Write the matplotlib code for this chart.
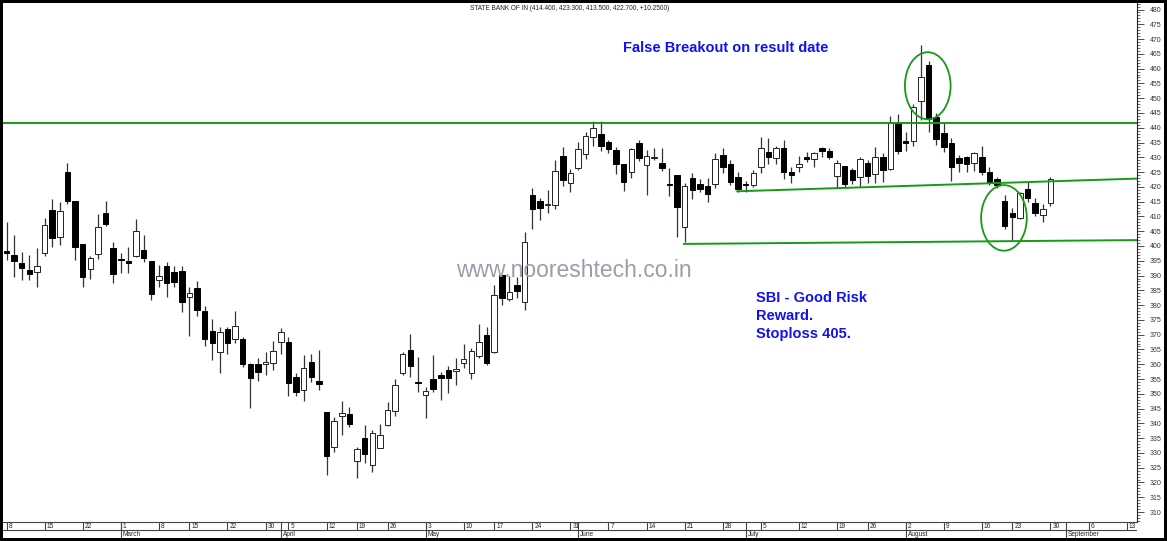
import numpy as np
import pandas as pd
import matplotlib
matplotlib.use('Agg')
import matplotlib.pyplot as plt
from matplotlib.patches import Ellipse
from matplotlib.ticker import MultipleLocator

# figure in pixels
W, H = 1167, 541
dpi = 100
green = '#159b15'
blue = '#1212ee'
plt.rc('font', family='Liberation Sans')

# NSE trading days 2021 (holidays removed), axis runs a bit into September
holidays = ['2021-03-11', '2021-03-29', '2021-04-02', '2021-04-14',
            '2021-04-21', '2021-05-13', '2021-07-21', '2021-08-19']
days = pd.bdate_range('2021-02-08', '2021-09-14')
days = days[~days.isin(pd.to_datetime(holidays))]

# daily OHLC, 8 Feb .. 30 Aug
opens = [398.3, 396.9, 394.1, 391.9, 391.2, 397.7, 412.2, 403.1, 425.1, 415.2,
         400.7, 392.1, 397.2, 411.3, 399.4, 395.3, 394.9, 396.6, 398.6, 395.0,
         388.5, 393.3, 391.1, 391.6, 382.6, 385.7, 378.1, 371.3, 364.0, 371.9,
         368.7, 368.7, 360.1, 360.1, 360.0, 360.3, 367.6, 367.4, 355.8, 351.3,
         360.8, 354.4, 343.9, 332.1, 342.6, 343.0, 327.1, 335.1, 325.9, 331.7,
         339.4, 344.3, 357.1, 364.8, 353.9, 349.6, 354.9, 356.3, 358.0, 357.6,
         360.3, 356.9, 362.9, 369.9, 364.2, 390.1, 381.9, 386.8, 381.1, 417.2,
         415.2, 414.0, 413.9, 430.5, 421.2, 426.3, 431.0, 437.0, 437.8, 435.3,
         432.5, 427.6, 425.1, 434.9, 427.4, 429.6, 428.2, 421.0, 424.0, 406.5,
         423.1, 420.9, 420.4, 421.0, 430.8, 427.6, 423.2, 420.8, 420.6, 426.6,
         431.9, 429.6, 433.0, 425.1, 426.6, 430.2, 429.3, 433.0, 432.2, 423.7,
         427.2, 425.7, 423.2, 428.0, 424.3, 430.2, 426.0, 441.5, 435.4, 435.5,
         449.1, 461.2, 443.7, 438.1, 434.7, 429.9, 430.2, 428.0, 430.2, 425.1,
         422.5, 415.2, 411.0, 409.6, 419.3, 414.4, 410.4, 414.4]
highs = [408.2, 403.7, 398.1, 396.9, 399.4, 409.3, 415.9, 415.0, 428.0, 415.2,
         400.7, 396.6, 410.7, 415.2, 401.2, 397.7, 399.8, 409.0, 403.7, 395.0,
         393.5, 394.7, 393.2, 393.2, 386.2, 388.2, 379.7, 375.2, 372.7, 372.7,
         378.0, 369.3, 360.5, 362.0, 364.0, 367.8, 372.1, 369.3, 357.2, 363.1,
         363.4, 364.8, 343.9, 342.0, 347.7, 345.4, 332.1, 339.4, 337.7, 339.7,
         347.3, 355.0, 364.2, 370.2, 362.3, 352.4, 363.1, 357.5, 359.4, 362.2,
         367.0, 365.4, 373.5, 372.7, 386.8, 390.1, 389.8, 389.6, 404.8, 419.5,
         416.1, 418.9, 429.1, 433.6, 426.0, 435.3, 438.4, 442.3, 442.3, 435.9,
         433.4, 427.9, 433.3, 435.8, 432.5, 433.0, 433.3, 426.3, 424.0, 421.4,
         424.6, 422.7, 423.1, 431.3, 433.3, 429.1, 425.1, 422.0, 425.7, 436.8,
         436.6, 433.9, 435.8, 426.8, 430.5, 431.9, 431.9, 433.6, 433.0, 429.1,
         427.2, 426.5, 430.2, 429.1, 433.6, 431.5, 444.1, 444.5, 438.7, 448.2,
         468.0, 462.6, 444.9, 441.8, 436.4, 430.8, 430.5, 431.9, 433.9, 426.8,
         423.4, 417.4, 412.9, 418.4, 421.7, 416.1, 414.1, 423.3]
lows = [395.2, 389.4, 388.5, 388.5, 386.0, 396.6, 399.8, 400.3, 414.1, 395.2,
        386.2, 389.0, 395.5, 406.9, 387.4, 391.0, 390.7, 396.4, 394.7, 381.7,
        386.2, 382.8, 386.0, 377.8, 369.5, 376.3, 366.2, 361.4, 357.2, 363.4,
        367.3, 358.9, 345.3, 354.4, 356.3, 358.0, 363.3, 349.3, 349.3, 347.7,
        354.1, 351.3, 322.5, 330.4, 336.0, 338.6, 321.4, 326.7, 323.4, 331.5,
        339.1, 342.6, 356.3, 355.8, 350.7, 341.7, 350.7, 347.9, 350.4, 353.0,
        358.6, 354.9, 362.0, 359.7, 363.9, 380.2, 381.5, 382.3, 378.3, 405.6,
        408.8, 411.0, 412.4, 420.4, 418.4, 425.7, 429.4, 433.8, 432.2, 431.3,
        424.2, 418.6, 423.1, 428.7, 417.2, 429.1, 425.4, 417.0, 403.1, 401.2,
        415.9, 418.2, 415.0, 419.5, 424.8, 420.8, 418.4, 418.1, 420.1, 424.6,
        427.7, 427.6, 422.7, 421.2, 425.1, 428.5, 426.8, 430.2, 429.3, 419.7,
        419.7, 421.0, 420.1, 421.4, 421.4, 421.5, 425.7, 431.0, 432.1, 433.9,
        442.6, 438.7, 434.2, 431.9, 422.1, 424.9, 425.1, 425.4, 424.0, 420.6,
        419.5, 405.7, 401.6, 409.1, 415.0, 410.2, 408.2, 413.5]
closes = [397.5, 394.9, 392.4, 390.4, 393.3, 407.1, 402.6, 411.8, 415.2, 399.8,
          389.6, 395.8, 406.3, 407.4, 390.4, 395.1, 394.3, 405.2, 395.8, 383.7,
          390.0, 387.6, 387.7, 381.1, 384.2, 378.5, 368.4, 367.3, 371.0, 367.1,
          372.9, 360.1, 355.2, 357.5, 360.9, 364.4, 370.8, 353.5, 350.5, 358.8,
          355.8, 353.2, 328.9, 340.9, 343.6, 339.8, 331.2, 329.6, 336.6, 336.2,
          344.5, 352.9, 363.4, 359.4, 353.7, 350.9, 351.5, 355.2, 355.5, 358.5,
          361.7, 364.6, 367.6, 360.5, 383.4, 382.5, 384.5, 384.9, 401.4, 412.4,
          412.7, 414.3, 425.4, 422.3, 424.6, 432.7, 437.3, 439.8, 433.8, 432.7,
          427.6, 421.5, 432.8, 429.9, 430.5, 430.0, 426.3, 420.6, 413.3, 420.3,
          418.9, 419.2, 417.5, 429.3, 426.8, 421.5, 419.3, 420.5, 424.6, 433.0,
          430.0, 433.0, 424.9, 424.0, 427.6, 429.3, 431.3, 432.2, 430.2, 428.2,
          421.0, 422.3, 429.3, 423.7, 430.0, 425.7, 441.8, 432.1, 435.0, 447.1,
          457.3, 443.0, 436.2, 433.6, 426.8, 428.0, 427.6, 431.3, 425.1, 421.7,
          420.6, 406.8, 409.9, 417.8, 416.3, 411.0, 412.45, 422.7]

# annotation lines (bar index, price)
resistance = 441.5
upper_trend = ([95.9, 148.4], [418.5, 422.8])
lower_trend = ([88.9, 148.4], [400.7, 402.0])

o = np.array(opens)
h = np.array(highs)
l = np.array(lows)
c = np.array(closes)
x = np.arange(len(o))
up = c >= o

xlim = (-0.46, 148.36)
ylim = (306.63, 482.2)

fig = plt.figure(figsize=(W / dpi, H / dpi), dpi=dpi)
fig.patch.set_facecolor('black')

bg = fig.add_axes([3 / W, 3 / H, 1161 / W, 535 / H])
bg.set_facecolor('white')
bg.set_xticks([])
bg.set_yticks([])
for s in bg.spines.values():
    s.set_visible(False)

ax = fig.add_axes([3 / W, (H - 522) / H, 1134 / W, 519 / H])
ax.set_facecolor('white')
ax.set_xlim(*xlim)
ax.set_ylim(*ylim)

# candles
ax.vlines(x, l, h, color='#333333', linewidth=0.9, zorder=1)
body_bot = np.minimum(o, c)
body_h = np.maximum(np.abs(c - o), 0.35)
ax.bar(x[up], body_h[up], bottom=body_bot[up], width=0.72,
       color='white', edgecolor='#222222', linewidth=0.7, zorder=2)
ax.bar(x[~up], body_h[~up], bottom=body_bot[~up], width=0.72,
       color='black', edgecolor='black', linewidth=0.7, zorder=2)

# support / resistance
ax.axhline(resistance, color=green, linewidth=1.4, zorder=3)
ax.plot(*upper_trend, color=green, linewidth=1.4, zorder=3)
ax.plot(*lower_trend, color=green, linewidth=1.4, zorder=3)
ax.add_patch(Ellipse((120.9, 454.2), 6.0, 22.7, fill=False, edgecolor=green, linewidth=1.3, zorder=4))
ax.add_patch(Ellipse((130.9, 409.5), 6.0, 22.2, fill=False, edgecolor=green, linewidth=1.3, zorder=4))

# right price axis
ax.set_xticks([])
ax.yaxis.tick_right()
ax.set_yticks(np.arange(310, 481, 5))
ax.yaxis.set_minor_locator(MultipleLocator(1))
ax.tick_params(axis='y', which='major', length=5, width=0.6, labelsize=5,
               pad=4, color='#333333', labelcolor='#333333')
ax.tick_params(axis='y', which='minor', length=2, width=0.5, color='#333333')
ax.spines['left'].set_visible(False)
ax.spines['top'].set_visible(False)
ax.spines['right'].set_color('#222222')
ax.spines['right'].set_linewidth(0.8)
ax.spines['bottom'].set_color('#444444')
ax.spines['bottom'].set_linewidth(0.8)

# date strip: week starts on top row, months below
dax = fig.add_axes([3 / W, (H - 538) / H, 1134 / W, 16 / H])
dax.set_xlim(*xlim)
dax.set_ylim(0, 2)
dax.axis('off')
dax.axhline(1, color='#444444', linewidth=0.8)
wk = days.isocalendar().week.values
mon = days.month.values
for i in range(len(days)):
    new_week = i == 0 or wk[i] != wk[i - 1]
    new_month = i > 0 and mon[i] != mon[i - 1]
    if new_week:
        dax.vlines(i, 1, 2, color='#444444', linewidth=0.8)
        dax.text(i + 0.25, 1.45, str(days[i].day), fontsize=4.7,
                 ha='left', va='center', color='#222222')
    if new_month:
        dax.vlines(i, 0, 2, color='#444444', linewidth=0.8)
        dax.text(i + 0.25, 0.45, days[i].strftime('%B'), fontsize=4.7,
                 ha='left', va='center', color='#222222')

# texts
fig.text(570 / W, 1 - 10.5 / H,
         'STATE BANK OF IN (414.400, 423.300, 413.500, 422.700, +10.2500)',
         fontsize=4.7, ha='center', va='baseline', color='#222222')
fig.text(622.7 / W, 1 - 52.3 / H, 'False Breakout on result date',
         fontsize=10.5, fontweight='bold', color=blue, va='baseline')
for txt, yb in zip(['SBI - Good Risk', 'Reward.', 'Stoploss 405.'],
                   [302.3, 320.3, 338.3]):
    fig.text(755.5 / W, 1 - yb / H, txt, fontsize=10.5, fontweight='bold',
             color=blue, va='baseline')
fig.text(456 / W, 1 - 276.7 / H, 'www.nooreshtech.co.in', fontsize=16.5,
         color='#9d9daa', va='baseline')

fig.savefig('out.png', dpi=dpi, facecolor=fig.get_facecolor())
